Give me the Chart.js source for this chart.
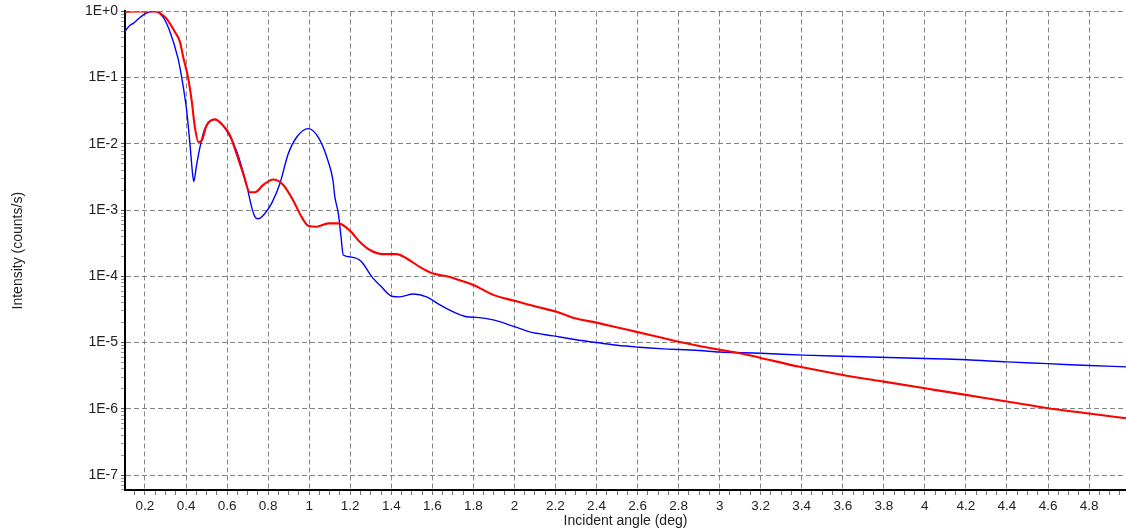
<!DOCTYPE html>
<html>
<head>
<meta charset="utf-8">
<script src="https://cdn.jsdelivr.net/npm/chart.js@4/dist/chart.umd.min.js"></script>
<style>
html,body{margin:0;padding:0;background:#fff;}
#wrap{width:1126px;height:531px;position:relative;}
</style>
</head>
<body>
<div id="wrap"><canvas id="c"></canvas></div>
<script>
// ---- data ----
const blueAngle = [0.100,0.127,0.143,0.170,0.200,0.240,0.288,0.320,0.360,0.379,0.403,0.419,0.432,0.438,0.450,0.468,0.492,0.520,0.540,0.560,0.598,0.646,0.695,0.720,0.736,0.752,0.784,0.817,0.857,0.898,0.939,0.995,1.044,1.093,1.116,1.125,1.142,1.155,1.166,1.207,1.255,1.304,1.353,1.402,1.442,1.507,1.572,1.637,1.702,1.767,1.816,1.897,2.000,2.075,2.190,2.300,2.400,2.500,2.610,2.710,2.900,3.000,3.200,3.410,3.600,4.000,4.200,4.400,4.600,4.800,4.980];
const blueIntensity = [0.49,0.62,0.66,0.78,0.92,1.0,0.82,0.51,0.20,0.10,0.032,0.010,0.0035,0.0027,0.0045,0.0089,0.017,0.022,0.0234,0.022,0.0158,0.0079,0.0024,0.0011,0.00079,0.00074,0.00089,0.00126,0.0025,0.0071,0.0126,0.017,0.0126,0.0054,0.0028,0.0016,0.00089,0.0004,0.00021,0.000195,0.000166,1.0e-4,6.9e-5,5.0e-5,4.9e-5,5.4e-5,4.9e-5,3.7e-5,2.9e-5,2.45e-5,2.4e-5,2.2e-5,1.74e-5,1.45e-5,1.26e-5,1.1e-5,1.0e-5,9.1e-6,8.5e-6,8.1e-6,7.6e-6,7.2e-6,6.9e-6,6.45e-6,6.2e-6,5.75e-6,5.5e-6,5.1e-6,4.8e-6,4.5e-6,4.3e-6];

const redAngle = [0.100,0.150,0.257,0.280,0.305,0.346,0.370,0.387,0.410,0.427,0.443,0.460,0.476,0.500,0.540,0.580,0.614,0.646,0.679,0.711,0.736,0.776,0.825,0.874,0.922,0.963,0.995,1.036,1.093,1.142,1.198,1.247,1.296,1.361,1.426,1.475,1.540,1.604,1.670,1.734,1.800,1.897,2.000,2.108,2.205,2.300,2.400,2.497,2.595,2.708,2.806,2.900,3.000,3.098,3.196,3.390,3.600,3.800,4.000,4.200,4.400,4.600,4.800,4.980];
const redIntensity = [0.98,1.0,1.0,0.91,0.78,0.49,0.35,0.20,0.10,0.046,0.018,0.0107,0.0112,0.019,0.0234,0.019,0.0135,0.0071,0.0035,0.00186,0.00186,0.0024,0.0029,0.0024,0.0014,0.00079,0.00058,0.00056,0.00063,0.00063,0.00049,0.00033,0.00025,0.000216,0.000216,0.000186,0.000138,0.00011,1.0e-4,8.7e-5,7.4e-5,5.25e-5,4.27e-5,3.47e-5,2.92e-5,2.3e-5,2.0e-5,1.7e-5,1.45e-5,1.2e-5,1.02e-5,8.9e-6,7.8e-6,6.9e-6,5.9e-6,4.3e-6,3.24e-6,2.57e-6,2.04e-6,1.62e-6,1.29e-6,1.02e-6,8.5e-7,7.2e-7];

const yTickValues = [1,1e-1,1e-2,1e-3,1e-4,1e-5,1e-6,1e-7];
const yTickLabels = ['1E+0','1E-1','1E-2','1E-3','1E-4','1E-5','1E-6','1E-7'];
const xTickValues = [0.2,0.4,0.6,0.8,1,1.2,1.4,1.6,1.8,2,2.2,2.4,2.6,2.8,3,3.2,3.4,3.6,3.8,4,4.2,4.4,4.6,4.8];
const xTickLabels = ['0.2','0.4','0.6','0.8','1','1.2','1.4','1.6','1.8','2','2.2','2.4','2.6','2.8','3','3.2','3.4','3.6','3.8','4','4.2','4.4','4.6','4.8'];

const FONT = 'Liberation Sans, Arial, sans-serif';

function xMajorIndex(v){
  const k = Math.round(v*100);
  return xTickValues.findIndex(t => Math.round(t*100) === k);
}
function yMajorIndex(v){
  return yTickValues.findIndex(t => Math.abs(Math.log10(t) - Math.log10(v)) < 1e-6);
}

new Chart(document.getElementById('c'), {
  type: 'line',
  data: {
    datasets: [
      {
        label: 'red',
        data: redAngle.map((a,i)=>({x:a, y:redIntensity[i]})),
        borderColor: '#ff0000',
        borderWidth: 2.1,
        pointRadius: 0,
        cubicInterpolationMode: 'monotone',
        fill: false
      },
      {
        label: 'blue',
        data: blueAngle.map((a,i)=>({x:a, y:blueIntensity[i]})),
        borderColor: '#0000ff',
        borderWidth: 1.4,
        pointRadius: 0,
        cubicInterpolationMode: 'monotone',
        fill: false
      }
    ]
  },
  options: {
    responsive: true,
    maintainAspectRatio: false,
    animation: false,
    devicePixelRatio: 1,
    layout: { padding: { top: 11, left: 0, right: 0, bottom: 0 } },
    plugins: { legend: { display: false }, tooltip: { enabled: false } },
    scales: {
      x: {
        type: 'linear',
        min: 0.1026,
        max: 4.98,
        afterBuildTicks(s){
          const t = [];
          for (let i = 3; i <= 99; i++) t.push({ value: i*0.05 });
          s.ticks = t;
        },
        afterFit(s){ s.height = 41; },
        ticks: {
          autoSkip: false,
          maxRotation: 0,
          padding: 3,
          color: '#222',
          font: { family: FONT, size: 13.5 },
          callback(v){ const i = xMajorIndex(v); return i >= 0 ? xTickLabels[i] : ''; }
        },
        grid: {
          color(ctx){ return (ctx.tick && xMajorIndex(ctx.tick.value) >= 0) ? '#858585' : 'rgba(0,0,0,0)'; },
          tickColor: '#777',
          tickLength: 5,
          lineWidth: 1
        },
        border: { display: true, color: '#000', width: 2, dash: [5,3] },
        title: {
          display: true,
          text: 'Incident angle (deg)',
          color: '#222',
          font: { family: FONT, size: 14 },
          padding: { top: 0, bottom: 1 }
        }
      },
      y: {
        type: 'logarithmic',
        min: 5.94e-8,
        max: 1,
        afterBuildTicks(s){
          const t = [];
          for (let e = 0; e >= -8; e--) {
            for (let m = 1; m <= 9; m++) {
              const v = m*Math.pow(10,e);
              if (v <= 1.0000001 && v >= 5.94e-8) t.push({ value: v });
            }
          }
          s.ticks = t;
        },
        afterFit(s){ s.width = 125; },
        ticks: {
          autoSkip: false,
          padding: 3,
          color: '#222',
          font: { family: FONT, size: 14 },
          callback(v){ const i = yMajorIndex(v); return i >= 0 ? yTickLabels[i] : ''; }
        },
        grid: {
          color(ctx){ return (ctx.tick && yMajorIndex(ctx.tick.value) >= 0) ? '#858585' : 'rgba(0,0,0,0)'; },
          tickColor(ctx){ return (ctx.tick && yMajorIndex(ctx.tick.value) >= 0) ? '#555' : '#999'; },
          tickLength: 4,
          lineWidth: 1
        },
        border: { display: true, color: '#000', width: 2, dash: [5,3] },
        title: {
          display: true,
          text: 'Intensity (counts/s)',
          color: '#222',
          font: { family: FONT, size: 14 },
          padding: { top: 10, bottom: 0 }
        }
      }
    }
  }
});
</script>
</body>
</html>
